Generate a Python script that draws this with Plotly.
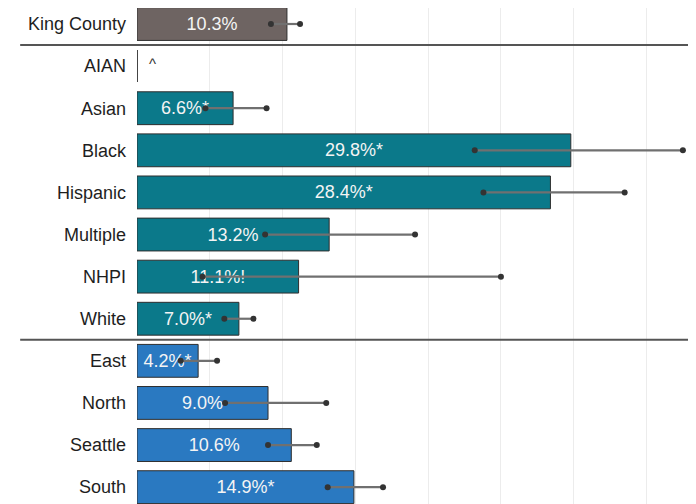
import plotly.graph_objects as go

categories = ["King County", "AIAN", "Asian", "Black", "Hispanic", "Multiple", "NHPI", "White",
              "East", "North", "Seattle", "South"]
values = [10.3, None, 6.6, 29.8, 28.4, 13.2, 11.1, 7.0, 4.2, 9.0, 10.6, 14.9]
ci_low = [9.2, None, 4.7, 23.2, 23.8, 8.8, 4.5, 6.0, 3.0, 6.05, 9.0, 13.1]
ci_high = [11.2, None, 8.9, 37.5, 33.5, 19.1, 25.0, 8.0, 5.5, 13.0, 12.35, 16.9]
labels = ["10.3%", "", "6.6%*", "29.8%*", "28.4%*", "13.2%", "11.1%!", "7.0%*",
          "4.2%*", "9.0%", "10.6%", "14.9%*"]
groups = ["county", "race", "race", "race", "race", "race", "race", "race",
          "region", "region", "region", "region"]
suppressed_note = "^"

group_colors = {"county": "#6e6462", "race": "#0b798a", "region": "#2a79c1"}
FONT = "Liberation Sans, Arial, sans-serif"

fig = go.Figure()
fig.add_trace(go.Bar(
    y=categories, x=values, orientation="h",
    marker=dict(color=[group_colors[g] for g in groups], line=dict(color="#2e2e2e", width=1)),
    width=0.78,
    text=labels, textposition="inside", insidetextanchor="middle",
    textfont=dict(color="#f4f4f4", size=18, family=FONT),
    hoverinfo="skip", showlegend=False,
))

ex, ey = [], []
for c, lo, hi in zip(categories, ci_low, ci_high):
    if lo is None:
        continue
    ex += [lo, hi, None]
    ey += [c, c, None]
fig.add_trace(go.Scatter(
    x=ex, y=ey, mode="lines+markers",
    line=dict(color="#707070", width=2.2),
    marker=dict(color="#333333", size=6),
    hoverinfo="skip", showlegend=False,
))

# AIAN suppressed row: zero mark and caret
ai = categories.index("AIAN")
fig.add_shape(type="line", xref="x", yref="y", x0=0, x1=0, y0=ai - 0.38, y1=ai + 0.38,
              line=dict(color="#444444", width=2))
fig.add_annotation(x=0, y="AIAN", text=suppressed_note, showarrow=False, xanchor="left",
                   xshift=10, yshift=3, font=dict(size=15, color="#333333", family=FONT))

# group separators
for sep in [0.5, 7.5]:
    fig.add_shape(type="line", xref="paper", yref="y", x0=-0.209, x1=1, y0=sep, y1=sep,
                  line=dict(color="#555555", width=2))

fig.update_layout(
    width=696, height=504,
    margin=dict(l=129, r=8, t=0, b=8, autoexpand=False),
    plot_bgcolor="white", paper_bgcolor="white",
    font=dict(family=FONT, size=18, color="#1e1e1e"),
    bargap=0.22,
)
fig.update_xaxes(range=[0, 38.4], dtick=5, showgrid=True, gridcolor="#ececec", gridwidth=1,
                 zeroline=False, showticklabels=False, showline=False, automargin=False)
fig.update_yaxes(categoryorder="array", categoryarray=categories, range=[11.40, -0.38],
                 showgrid=False, zeroline=False, showline=False, ticks="", automargin=False,
                 ticklabelstandoff=10, tickfont=dict(size=18, color="#1e1e1e", family=FONT))

fig.write_html("out.html")
